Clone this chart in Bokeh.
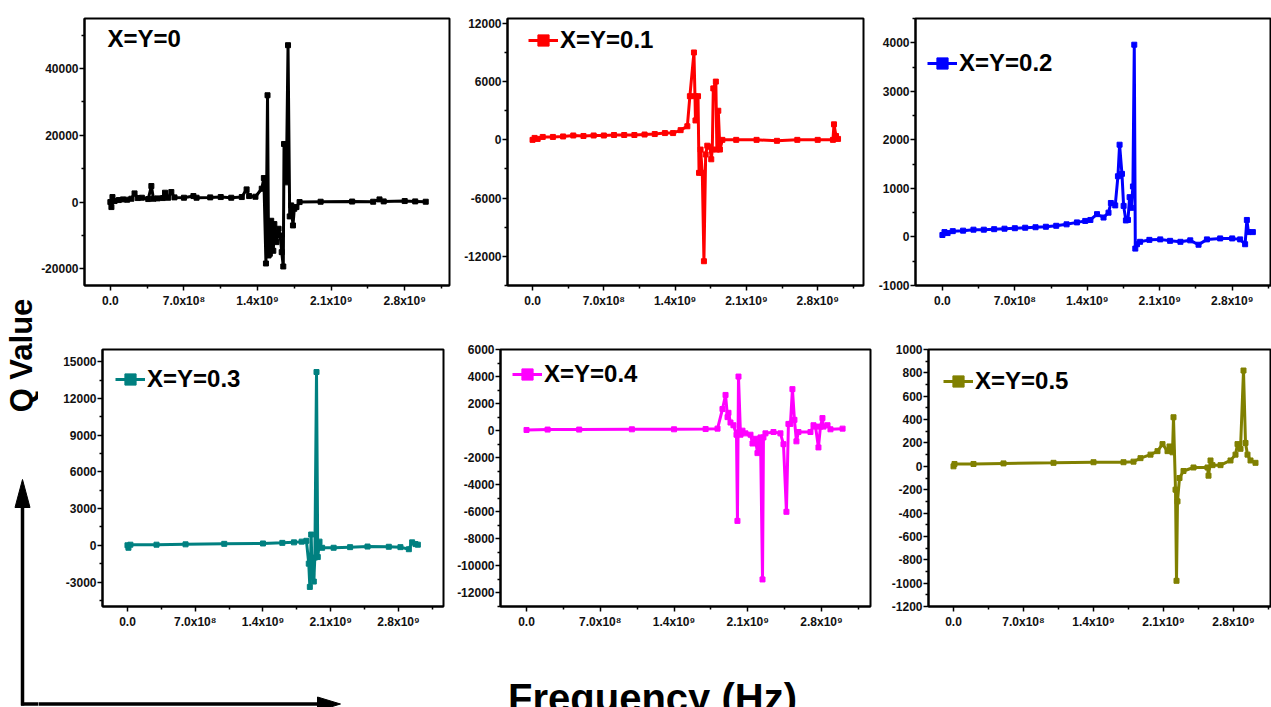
import numpy as np
from bokeh.plotting import figure
from bokeh.models import (Range1d, FixedTicker, NumeralTickFormatter, Legend,
                          LegendItem, Label)
from bokeh.layouts import row, column
from bokeh.embed import file_html
from bokeh.resources import INLINE

FONT = "Liberation Sans"
PAGE_W, PAGE_H = 1271, 707

# ---------------- data ----------------
x_ticks = [0, 700000000, 1400000000, 2100000000, 2800000000]
x_minor = [-350000000, 350000000, 1050000000, 1750000000, 2450000000, 3150000000]
x_tick_labels = ["0.0", "7.0x10⁸", "1.4x10⁹", "2.1x10⁹", "2.8x10⁹"]

series_labels = ["X=Y=0", "X=Y=0.1", "X=Y=0.2", "X=Y=0.3", "X=Y=0.4", "X=Y=0.5"]
series_colors = ["#000000", "#FF0000", "#0000FF", "#008080", "#FF00FF", "#808000"]

freq_0 = [0.0, 0.01e9, 0.02e9, 0.04e9, 0.08e9, 0.12e9, 0.16e9, 0.2e9, 0.23e9, 0.26e9,
          0.3e9, 0.36e9, 0.39e9, 0.41e9, 0.45e9, 0.5e9, 0.52e9, 0.55e9, 0.58e9, 0.61e9,
          0.7e9, 0.79e9, 0.82e9, 0.95e9, 1.05e9, 1.15e9, 1.25e9, 1.296e9, 1.32e9, 1.38e9,
          1.44e9, 1.46e9, 1.48e9, 1.495e9, 1.505e9, 1.517e9, 1.53e9, 1.55e9, 1.56e9, 1.58e9,
          1.6e9, 1.615e9, 1.63e9, 1.645e9, 1.652e9, 1.674e9, 1.69e9, 1.706e9, 1.72e9, 1.737e9,
          1.75e9, 1.77e9, 1.8e9, 2.0e9, 2.3e9, 2.5e9, 2.56e9, 2.6e9, 2.8e9, 2.9e9,
          3.0e9]
q_0 = [0, -1500, 1500, 300, 600, 800, 700, 1000, 2600, 1200,
       1300, 900, 4800, 1000, 1100, 1200, 2800, 1300, 3000, 1400,
       1300, 1800, 1300, 1400, 1500, 1300, 1500, 3800, 1800, 1600,
       4000, 7200, -18400, 32000, -16000, -15500, -5600, -14600, -6600, -12000,
       -8000, -10000, -15000, -19300, 17400, 5900, 47000, -4300, -1000, -7000,
       -2000, -1500, 0, 100, 150, 100, 800, 200, 300, 200,
       100]

freq_1 = [0.0, 0.02e9, 0.05e9, 0.1e9, 0.2e9, 0.3e9, 0.4e9, 0.5e9, 0.6e9, 0.7e9,
          0.8e9, 0.9e9, 1.0e9, 1.1e9, 1.2e9, 1.3e9, 1.38e9, 1.454e9, 1.52e9, 1.545e9,
          1.585e9, 1.595e9, 1.6e9, 1.625e9, 1.635e9, 1.65e9, 1.667e9, 1.683e9, 1.7e9, 1.716e9,
          1.742e9, 1.755e9, 1.765e9, 1.775e9, 1.8e9, 1.81e9, 1.824e9, 1.84e9, 1.864e9, 2.0e9,
          2.2e9, 2.4e9, 2.6e9, 2.8e9, 2.95e9, 2.96e9, 2.98e9, 3.0e9]
q_1 = [0, 200, 100, 300, 300, 350, 450, 400, 450, 450,
       500, 500, 500, 550, 600, 700, 700, 1000, 1400, 4500,
       9000, 4500, 2000, 4500, -3400, -1000, -3400, -12500, -1500, -600,
       -700, -2000, -1000, 5300, 6000, -1000, 3000, -1000, 0, 0,
       0, -100, 0, 0, 0, 1600, 400, 100]

freq_2 = [0.0, 0.02e9, 0.05e9, 0.1e9, 0.2e9, 0.3e9, 0.4e9, 0.5e9, 0.6e9, 0.7e9,
          0.8e9, 0.9e9, 1.0e9, 1.1e9, 1.2e9, 1.3e9, 1.38e9, 1.43e9, 1.494e9, 1.557e9,
          1.605e9, 1.628e9, 1.67e9, 1.696e9, 1.712e9, 1.735e9, 1.751e9, 1.773e9, 1.793e9, 1.809e9,
          1.825e9, 1.841e9, 1.854e9, 1.864e9, 1.88e9, 1.91e9, 2.0e9, 2.105e9, 2.2e9, 2.3e9,
          2.395e9, 2.475e9, 2.556e9, 2.684e9, 2.8e9, 2.877e9, 2.925e9, 2.942e9, 2.957e9, 3.0e9]
q_2 = [40, 100, 80, 120, 130, 150, 150, 160, 170, 180,
       190, 200, 210, 230, 260, 300, 330, 350, 470, 400,
       500, 700, 650, 1250, 1900, 1300, 640, 340, 350, 820,
       600, 1040, 3960, -240, -150, -100, -60, -50, -80, -100,
       -70, -160, -50, -30, -30, -50, -150, 350, 100, 100]

freq_3 = [0.0, 0.01e9, 0.03e9, 0.3e9, 0.6e9, 1.0e9, 1.4e9, 1.6e9, 1.72e9, 1.8e9,
          1.849e9, 1.873e9, 1.884e9, 1.898e9, 1.908e9, 1.925e9, 1.936e9, 1.953e9, 1.966e9, 1.984e9,
          2.011e9, 2.13e9, 2.3e9, 2.48e9, 2.7e9, 2.82e9, 2.907e9, 2.941e9, 2.976e9, 3.0e9]
q_3 = [0, -200, 50, 50, 80, 120, 150, 200, 240, 300,
       370, -1500, -3400, 880, -2500, -2960, -1000, 14160, -960, 300,
       -200, -200, -150, -100, -120, -150, -320, 240, 100, 50]

freq_4 = [0.0, 0.2e9, 0.5e9, 1.0e9, 1.4e9, 1.7e9, 1.813e9, 1.86e9, 1.889e9, 1.908e9,
          1.917e9, 1.936e9, 1.964e9, 1.993e9, 2.002e9, 2.012e9, 2.031e9, 2.05e9, 2.078e9, 2.126e9,
          2.145e9, 2.173e9, 2.192e9, 2.202e9, 2.221e9, 2.24e9, 2.249e9, 2.268e9, 2.344e9, 2.41e9,
          2.439e9, 2.467e9, 2.486e9, 2.505e9, 2.524e9, 2.543e9, 2.562e9, 2.581e9, 2.695e9, 2.724e9,
          2.743e9, 2.771e9, 2.79e9, 2.809e9, 2.819e9, 2.857e9, 2.885e9, 3.0e9]
q_4 = [50, 80, 80, 100, 100, 120, 150, 1600, 2640, 1000,
       1320, 600, 400, -300, -6670, 4000, -300, 0, -200, -300,
       -950, -600, -1660, -1000, -500, -11000, -500, -200, -100, -200,
       -1000, -6000, 500, 500, 3070, 800, -790, -100, -100, 400,
       300, -1240, 300, 930, 300, 400, 100, 150]

freq_5 = [0.0, 0.01e9, 0.2e9, 0.5e9, 1.0e9, 1.4e9, 1.7e9, 1.8e9, 1.87e9, 1.97e9,
          2.04e9, 2.09e9, 2.14e9, 2.16e9, 2.19e9, 2.2e9, 2.22e9, 2.23e9, 2.24e9, 2.26e9,
          2.3e9, 2.4e9, 2.54e9, 2.55e9, 2.57e9, 2.59e9, 2.67e9, 2.77e9, 2.82e9, 2.84e9,
          2.87e9, 2.9e9, 2.92e9, 2.94e9, 2.97e9, 3.02e9]
q_5 = [0, 20, 20, 25, 30, 35, 35, 40, 70, 100,
       130, 190, 130, 170, 120, 420, -200, -980, -300, -100,
       -40, -10, -10, -80, 50, 10, 10, 50, 100, 190,
       150, 820, 200, 100, 50, 30]

y_ticks = [
    [-20000, 0, 20000, 40000],
    [-12000, -6000, 0, 6000, 12000],
    [-1000, 0, 1000, 2000, 3000, 4000],
    [-3000, 0, 3000, 6000, 9000, 12000, 15000],
    [-12000, -10000, -8000, -6000, -4000, -2000, 0, 2000, 4000, 6000],
    [-1200, -1000, -800, -600, -400, -200, 0, 200, 400, 600, 800, 1000],
]
y_minor = [
    [-10000, 10000, 30000, 50000],
    [-15000, -9000, -3000, 3000, 9000],
    [-500, 500, 1500, 2500, 3500, 4500],
    [-4500, -1500, 1500, 4500, 7500, 10500, 13500],
    [-13000, -11000, -9000, -7000, -5000, -3000, -1000, 1000, 3000, 5000],
    [-1100, -900, -700, -500, -300, -100, 100, 300, 500, 700, 900],
]
y_ranges = [(-25000, 55000), (-15000, 12500), (-1000, 4500),
            (-5000, 16000), (-13000, 6000), (-1200, 1000)]
x_ranges = [(-2.46e8, 3.226e9), (-2.46e8, 3.25e9), (-2.6e8, 3.18e9),
            (-2.58e8, 3.265e9), (-2.47e8, 3.265e9), (-2.5e8, 3.18e9)]

freqs = [freq_0, freq_1, freq_2, freq_3, freq_4, freq_5]
qs = [q_0, q_1, q_2, q_3, q_4, q_5]
for f, q in zip(freqs, qs):
    assert len(f) == len(q)

# ---------------- layout geometry (page pixels, y downward) ----------------
boxes = [
    (38, 0, 454, 316), (454, 0, 868, 316), (868, 0, 1271, 316),
    (38, 316, 446, 638), (446, 316, 876, 638), (876, 316, 1271, 638),
]
frames = [
    (82, 18, 449, 292), (507, 18, 863, 292), (915, 12, 1271, 285),
    (102, 349, 443, 611), (500, 345, 870, 613), (928, 344, 1271, 606),
]
legend_offsets = [(23, 27), (21, 28.5), (12, 50.5), (13, 34.5), (12, 36), (15, 37)]


def up(y):
    """page y (downward) -> decoration y (upward)"""
    return PAGE_H - y


def deco_figure(x0, y0, x1, y1):
    f = figure(width=x1 - x0, height=y1 - y0, x_range=Range1d(x0, x1),
               y_range=Range1d(up(y1), up(y0)), toolbar_location=None,
               output_backend="svg", min_border=0, x_axis_type=None, y_axis_type=None)
    f.outline_line_color = None
    f.background_fill_color = "white"
    f.border_fill_color = "white"
    f.xgrid.visible = False
    f.ygrid.visible = False
    return f


# left strip: the y title (an empty axis whose label is pulled into the strip,
# centred on y = 355) and the vertical arrow
strip = figure(width=38, height=PAGE_H, toolbar_location=None, output_backend="svg",
               x_range=Range1d(0, 38), y_range=Range1d(0, PAGE_H - 3),
               x_axis_type=None, min_border_left=0, min_border_right=0,
               min_border_top=3, min_border_bottom=0)
strip.outline_line_color = None
strip.border_fill_color = "white"
strip.background_fill_color = "white"
strip.xgrid.visible = False
strip.ygrid.visible = False
strip.yaxis.ticker = FixedTicker(ticks=[])
strip.yaxis.axis_line_color = None
strip.yaxis.major_tick_line_color = None
strip.yaxis.minor_tick_line_color = None
strip.yaxis.axis_label = "Q Value"
strip.yaxis.axis_label_standoff = -38
strip.yaxis.axis_label_text_font = FONT
strip.yaxis.axis_label_text_font_style = "bold"
strip.yaxis.axis_label_text_font_size = "31px"
strip.yaxis.axis_label_text_color = "black"
strip.segment(x0=[22, 20.5], y0=[up(705), up(703.5)], x1=[22, 38], y1=[up(504), up(703.5)],
              line_color="black", line_width=3.5)
strip.patch(x=[22, 14.5, 29.5], y=[up(479), up(507), up(507)],
            fill_color="black", line_color="black")

# bottom strip: x title and the horizontal arrow
bottom = deco_figure(38, 638, PAGE_W, PAGE_H)
bottom.add_layout(Label(x=652, y=up(697), text="Frequency (Hz)",
                        text_align="center", text_baseline="alphabetic",
                        text_font=FONT, text_font_style="bold", text_font_size="40px",
                        text_color="black"))
bottom.segment(x0=[37], y0=[up(703.5)], x1=[320], y1=[up(703.5)],
               line_color="black", line_width=3.5)
bottom.patch(x=[340, 317, 317], y=[up(703.5), up(696.5), up(710.5)],
             fill_color="black", line_color="black")

panels = []
for i in range(6):
    bx0, by0, bx1, by1 = boxes[i]
    L, T, R, B = frames[i]
    fh = B - T
    p = figure(width=bx1 - bx0, height=by1 - by0, toolbar_location=None,
               output_backend="svg",
               x_range=Range1d(*x_ranges[i]), y_range=Range1d(*y_ranges[i]),
               min_border_left=L - bx0, min_border_top=T - by0,
               min_border_right=bx1 - R, min_border_bottom=by1 - B)
    p.border_fill_color = "white"
    p.background_fill_color = "white"
    p.outline_line_color = "black"
    p.outline_line_width = 2
    p.xgrid.visible = False
    p.ygrid.visible = False

    p.xaxis.ticker = FixedTicker(ticks=x_ticks, minor_ticks=x_minor)
    p.xaxis.major_label_overrides = {t: s for t, s in zip(x_ticks, x_tick_labels)}
    p.yaxis.ticker = FixedTicker(ticks=y_ticks[i], minor_ticks=y_minor[i])
    p.yaxis.formatter = NumeralTickFormatter(format="0")
    for ax in (p.xaxis, p.yaxis):
        ax.axis_line_width = 2
        ax.axis_line_color = "black"
        ax.major_tick_line_width = 1.5
        ax.minor_tick_line_width = 1.5
        ax.major_tick_in = 0
        ax.major_tick_out = 5
        ax.minor_tick_in = 0
        ax.minor_tick_out = 3
        ax.major_label_text_font = FONT
        ax.major_label_text_font_style = "bold"
        ax.major_label_text_font_size = "12px"
        ax.major_label_text_color = "#111111"
    p.yaxis.major_label_standoff = 1
    p.xaxis.major_label_standoff = 3

    c = series_colors[i]
    lr = p.line(freqs[i], qs[i], line_color=c, line_width=3)
    sr = p.scatter(freqs[i], qs[i], marker="square", size=5,
                   fill_color=c, line_color=c)

    dx, dy = legend_offsets[i]
    if i == 0:
        p.add_layout(Label(x=dx, y=fh - dy, x_units="screen", y_units="screen",
                           text=series_labels[i], text_baseline="middle",
                           text_font=FONT, text_font_style="bold",
                           text_font_size="24px", text_color="black"))
    else:
        leg = Legend(items=[LegendItem(label=series_labels[i], renderers=[lr, sr])],
                     location=(dx, fh - dy - 14),
                     glyph_width=30, glyph_height=28, label_height=28,
                     label_standoff=2, padding=0, margin=0, spacing=0,
                     border_line_color=None, background_fill_alpha=0,
                     label_text_font=FONT, label_text_font_style="bold",
                     label_text_font_size="24px", label_text_color="black")
        p.add_layout(leg)
    panels.append(p)

right_part = column(row(panels[0], panels[1], panels[2]),
                    row(panels[3], panels[4], panels[5]),
                    bottom)
layout = row(strip, right_part)

open("out.html", "w").write(file_html(layout, INLINE))
